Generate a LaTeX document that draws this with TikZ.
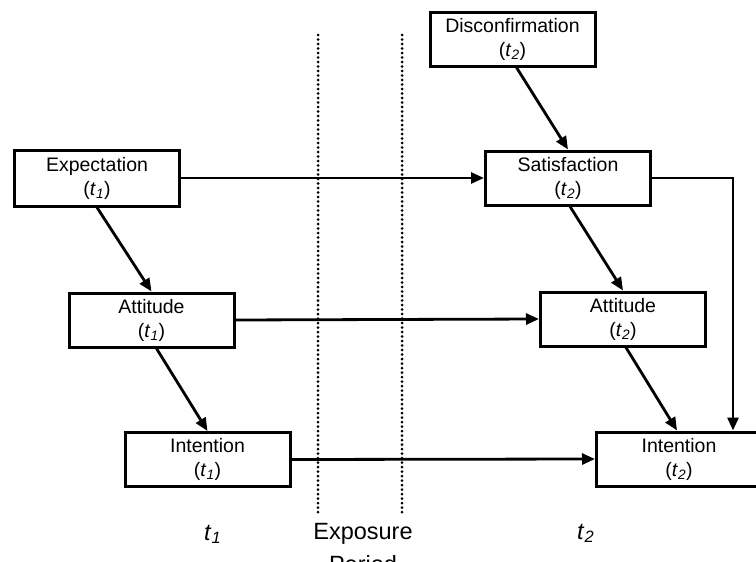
\documentclass[tikz,border=0pt]{standalone}
\usepackage{fontspec}
\setmainfont{Liberation Sans}
\usetikzlibrary{arrows.meta}

\newcommand{\tlab}[1]{\textit{t}\textsubscript{\textit{#1}}}
\def\periodL{(318,35) -- (318,513)}
\def\periodR{(402,35) -- (402,513)}

\begin{document}
\begin{tikzpicture}[x=1pt,y=-1pt,
    box/.style={draw, line width=3pt, minimum width=165pt, minimum height=54pt,
        inner sep=0pt, align=center, font=\fontsize{19.5}{24}\selectfont},
    arr/.style={line width=2.8pt, -{Triangle[length=13pt,width=11pt]}},
    sep/.style={line width=3pt, line cap=round, dash pattern=on 0pt off 4.5pt},
    lab/.style={inner sep=0pt, font=\fontsize{23.5}{33}\selectfont}]
    \useasboundingbox (0,0) rectangle (756,562);
    % exposure period
    \draw[sep] \periodL;
    \draw[sep] \periodR;
    % boxes
    \node[box] (disc) at (512.5,39) {Disconfirmation\\(\tlab{2})};
    \node[box, minimum height=56pt] (expect) at (97,178) {Expectation\\(\tlab{1})};
    \node[box] (satis) at (568,178) {Satisfaction\\(\tlab{2})};
    \node[box] (att1) at (151.5,320) {Attitude\\(\tlab{1})};
    \node[box] (att2) at (623,319) {Attitude\\(\tlab{2})};
    \node[box] (int1) at (207.5,459.5) {Intention\\(\tlab{1})};
    \node[box] (int2) at (679,459) {Intention\\(\tlab{2})};
    % links
    \draw[arr] (expect.east) -- (satis.west);
    \draw[arr] (att1.east) -- (att2.west);
    \draw[arr] (int1.east) -- (int2.west);
    \draw[arr] (expect.south) -- (att1.north);
    \draw[arr] ([xshift=5pt]att1.south) -- (int1.north);
    \draw[arr] ([xshift=4pt]disc.south) -- (satis.north);
    \draw[arr] ([xshift=2pt]satis.south) -- (att2.north);
    \draw[arr] ([xshift=3pt]att2.south) -- ([xshift=-2pt]int2.north);
    \draw[arr] (satis.east) -| ([xshift=54pt]int2.north);
    % time labels
    \node[lab, anchor=base west] (tone) at (204,540) {\tlab{1}};
    \node[lab, anchor=base west] (ttwo) at (577,539) {\tlab{2}};
    \node[lab, anchor=north, align=center] (expo) at (363,523) {Exposure\\Period};
\end{tikzpicture}
\end{document}
